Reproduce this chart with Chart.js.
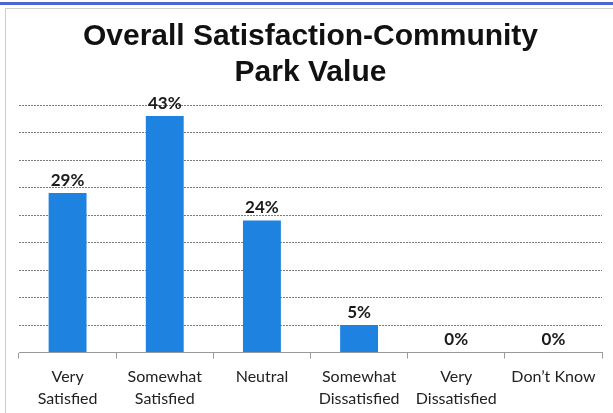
<!DOCTYPE html>
<html>
<head>
<meta charset="utf-8">
<script src="https://cdn.jsdelivr.net/npm/chart.js@4/dist/chart.umd.min.js"></script>
<style>
  html, body { margin: 0; padding: 0; background: #fff; }
  #wrap { width: 613px; height: 413px; position: relative; }
</style>
</head>
<body>
<div id="wrap"><canvas id="c" width="613" height="413"></canvas></div>
<script>
// Survey responses: overall satisfaction with community park value
const categories = [
  ['Very', 'Satisfied'],
  ['Somewhat', 'Satisfied'],
  'Neutral',
  ['Somewhat', 'Dissatisfied'],
  ['Very', 'Dissatisfied'],
  'Don\u2019t Know'
];
const percentValues = [29, 43, 24, 5, 0, 0];
const titleLines = ['Overall Satisfaction-Community', 'Park Value'];
const axisMax = 45;
const axisStep = 5;

// Page frame: blue rule along the top, thin gray rules at top and left
const framePlugin = {
  id: 'frame',
  beforeDraw(chart) {
    const ctx = chart.ctx;
    ctx.save();
    ctx.fillStyle = '#fff';
    ctx.fillRect(0, 0, chart.width, chart.height);
    ctx.fillStyle = '#4d65cc';
    ctx.fillRect(0, 2, chart.width, 3);
    ctx.fillStyle = '#cfcfcf';
    ctx.fillRect(5, 8, chart.width - 5, 1);
    ctx.fillRect(5, 8, 1, chart.height - 8);
    ctx.restore();
  }
};

// Percentage labels above each bar
const valueLabels = {
  id: 'valueLabels',
  afterDatasetsDraw(chart) {
    const ctx = chart.ctx;
    const meta = chart.getDatasetMeta(0);
    ctx.save();
    ctx.font = 'bold 17px Lato, "Open Sans", sans-serif';
    ctx.fillStyle = '#1a1a1a';
    ctx.textAlign = 'center';
    ctx.textBaseline = 'bottom';
    meta.data.forEach((bar, i) => {
      ctx.fillText(percentValues[i] + '%', bar.x, bar.y - 4);
    });
    ctx.restore();
  }
};

new Chart(document.getElementById('c'), {
  type: 'bar',
  data: {
    labels: categories,
    datasets: [{
      data: percentValues,
      backgroundColor: '#1e82e0',
      borderWidth: 0,
      categoryPercentage: 1,
      barPercentage: 0.39
    }]
  },
  options: {
    responsive: false,
    animation: false,
    devicePixelRatio: 1,
    layout: { padding: { left: 19, right: 11, top: 0, bottom: 0 } },
    plugins: {
      legend: { display: false },
      tooltip: { enabled: false },
      title: {
        display: true,
        text: titleLines,
        color: '#111',
        font: { family: '"Liberation Sans", Arial, sans-serif', size: 30, weight: 'bold', lineHeight: 1.2 },
        padding: { top: 18.5, bottom: 14.5 }
      }
    },
    scales: {
      x: {
        afterFit(scale) { scale.height = 60.5; },
        grid: {
          display: true,
          drawOnChartArea: false,
          drawTicks: true,
          tickLength: 6,
          color: '#9a9a9a'
        },
        border: { display: true, color: '#9a9a9a' },
        ticks: {
          color: '#222',
          font: { family: 'Lato, "Open Sans", sans-serif', size: 16, lineHeight: 1.38 },
          padding: 7.5,
          maxRotation: 0,
          autoSkip: false
        }
      },
      y: {
        min: 0,
        max: axisMax,
        afterFit(scale) { scale.width = 0; },
        ticks: { display: false, stepSize: axisStep },
        grid: {
          color: '#7a7a7a',
          lineWidth: 1,
          drawTicks: false
        },
        border: { display: false, dash: [2, 1] }
      }
    }
  },
  plugins: [framePlugin, valueLabels]
});
</script>
</body>
</html>
